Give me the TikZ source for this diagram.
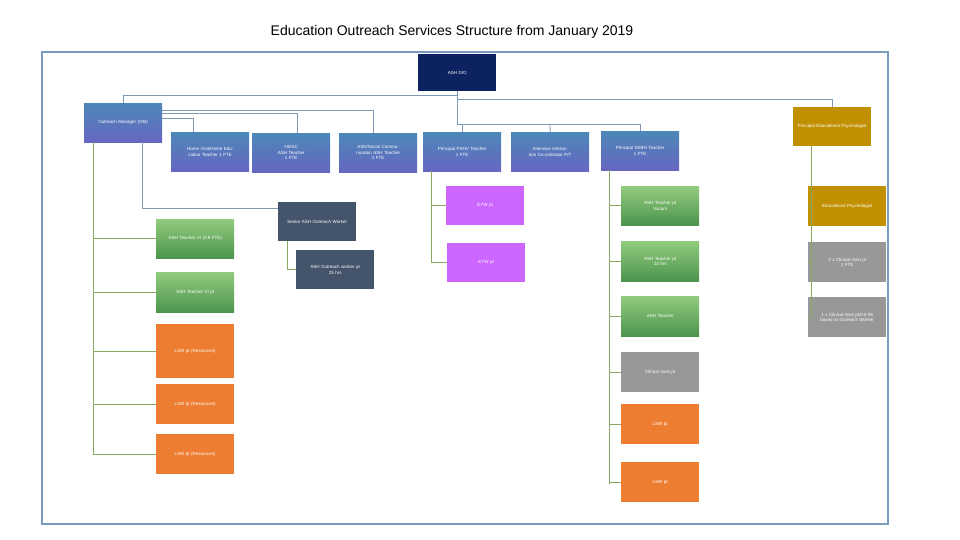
\documentclass[tikz,border=0pt]{standalone}
\usepackage{fontspec}
\setmainfont{Liberation Sans}
\usetikzlibrary{calc}
\definecolor{navy}{HTML}{0D2260}
\definecolor{frameblue}{HTML}{7A9CC0}
\definecolor{linkblue}{HTML}{7F98B4}
\definecolor{linkgreen}{HTML}{8AA860}
\definecolor{slate}{HTML}{44546A}
\definecolor{violet}{HTML}{CC66FF}
\definecolor{gold}{HTML}{C09000}
\definecolor{greyish}{HTML}{989898}
\definecolor{orangeish}{HTML}{ED7D31}
\tikzset{
  box/.style={anchor=north west, inner sep=1pt, text=white, align=center,
    font=\fontsize{4.5}{5.5}\selectfont, minimum width=78pt, minimum height=39pt, text width=74pt},
  bluebox/.style={box, top color=blue!45!cyan!60!black!70, bottom color=blue!60!black!60, draw=none},
  greenbox/.style={box, top color=green!50!black!45!white!90!lime, bottom color=green!40!black!70},
  link/.style={linkblue, line width=0.8pt},
  sublink/.style={linkgreen, line width=0.8pt}
}
\begin{document}
\begin{tikzpicture}[x=1pt,y=-1pt]
\useasboundingbox (0,0) rectangle (960,540);
\fill[white] (0,0) rectangle (960,540);
\node at (452,32) {\fontsize{14}{16}\selectfont Education Outreach Services Structure from January 2019};
\draw[frameblue, line width=1.5pt] (42,52) rectangle (888,524);
% top tier
\node[box, fill=navy, minimum height=37pt] (dio) at (418,54) {ASH DIO};
\node[bluebox] (om) at (84,103) {Outreach Manager (OM)};
\node[bluebox] (hv) at (171,132) {Home Visit/Home Education Teacher 1 FTE};
\node[bluebox] (hi) at (252,133) {HI/ISC\\ASH Teacher\\1 FTE};
\node[bluebox] (asd) at (339,133) {ASD/Social Communication ASH Teacher\\1 FTE};
\node[bluebox] (pshv) at (423,132) {Principal PSHV Teacher\\1 FTE};
\node[bluebox] (ii) at (511,132) {Intensive Interaction Co-ordinator P/T};
\node[bluebox] (sebh) at (601,131) {Principal SEBH Teacher\\1 FTE};
\node[box, fill=gold] (pep) at (793,107) {Principal Educational Psychologist};
% second tier
\node[box, fill=violet] (eyw1) at (446,186) {EYW pt};
\node[box, fill=violet] (eyw2) at (447,243) {EYW pt};
\node[box, fill=slate] (sow) at (278,202) {Senior ASH Outreach Worker};
\node[box, fill=slate] (aow) at (296,250) {ASH Outreach worker pt\\25 hrs};
\node[greenbox] (vi1) at (156,219) {ASH Teacher VI (0.8 FTE)};
\node[greenbox, minimum height=40pt] (vi2) at (156,272) {ASH Teacher VI pt};
\node[box, fill=orangeish, minimum height=54pt] (lsw1) at (156,324) {LSW pt (Resources)};
\node[box, fill=orangeish, minimum height=40pt] (lsw2) at (156,384) {LSW pt (Resources)};
\node[box, fill=orangeish, minimum height=40pt] (lsw3) at (156,434) {LSW pt (Resources)};
\node[greenbox] (st1) at (621,186) {ASH Teacher pt\\Vacant};
\node[greenbox, minimum height=40pt] (st2) at (621,241) {ASH Teacher pt\\14 hrs};
\node[greenbox, minimum height=40pt] (st3) at (621,296) {ASH Teacher};
\node[box, fill=greyish, minimum height=40pt] (ca) at (621,352) {Clinical Asst pt};
\node[box, fill=orangeish, minimum height=40pt] (sl1) at (621,404) {LSW pt};
\node[box, fill=orangeish, minimum height=40pt] (sl2) at (621,462) {LSW pt};
\node[box, fill=gold, minimum height=40pt] (ep) at (808,186) {Educational Psychologist};
\node[box, fill=greyish, minimum height=40pt] (ca2) at (808,242) {2 x Clinical Asst pt\\1 FTE};
\node[box, fill=greyish, minimum height=40pt] (ca3) at (808,297) {1 x Clinical Asst pt/0.6 fte based at Outreach Worker};
% links from the top
\draw[link] (dio.south) |- (123,95) -- (om.north -| 123,0);
\draw[link] (457,91) |- (832,99) -- (pep.north -| 832,0);
\draw[link] (457,99) |- (640,124) -- (sebh.north -| 640,0);
\draw[link] (550,124) -- (ii.north);
\draw[link] (462,124) -- (pshv.north -| 462,0);
\draw[link] (om.east |- 0,110) -| (asd.north -| 373,0);
\draw[link] (om.east |- 0,113) -| (hi.north -| 297,0);
\draw[link] (om.east |- 0,118) -| (hv.north -| 193,0);
\draw[link] (om.south -| 142,0) |- (sow.west |- 0,208);
% lower links
\draw[sublink] (om.south -| 93,0) -- (93,455);
\foreach \n in {vi1,vi2,lsw1,lsw2,lsw3}
  \draw[sublink] (93,0 |- \n.west) -- (\n.west);
\draw[sublink] (sow.south -| 287,0) |- (aow.west);
\draw[sublink] (pshv.south -| 431,0) -- (431,263);
\foreach \n in {eyw1,eyw2}
  \draw[sublink] (431,0 |- \n.west) -- (\n.west);
\draw[sublink] (sebh.south -| 609,0) -- (609,484);
\foreach \n in {st1,st2,st3,ca,sl1,sl2}
  \draw[sublink] (609,0 |- \n.west) -- (\n.west);
\draw[sublink] (pep.south -| 811,0) -- (811,317);
\foreach \n in {ep,ca2,ca3}
  \draw[sublink] (811,0 |- \n.west) -- (\n.west);
\end{tikzpicture}
\end{document}
